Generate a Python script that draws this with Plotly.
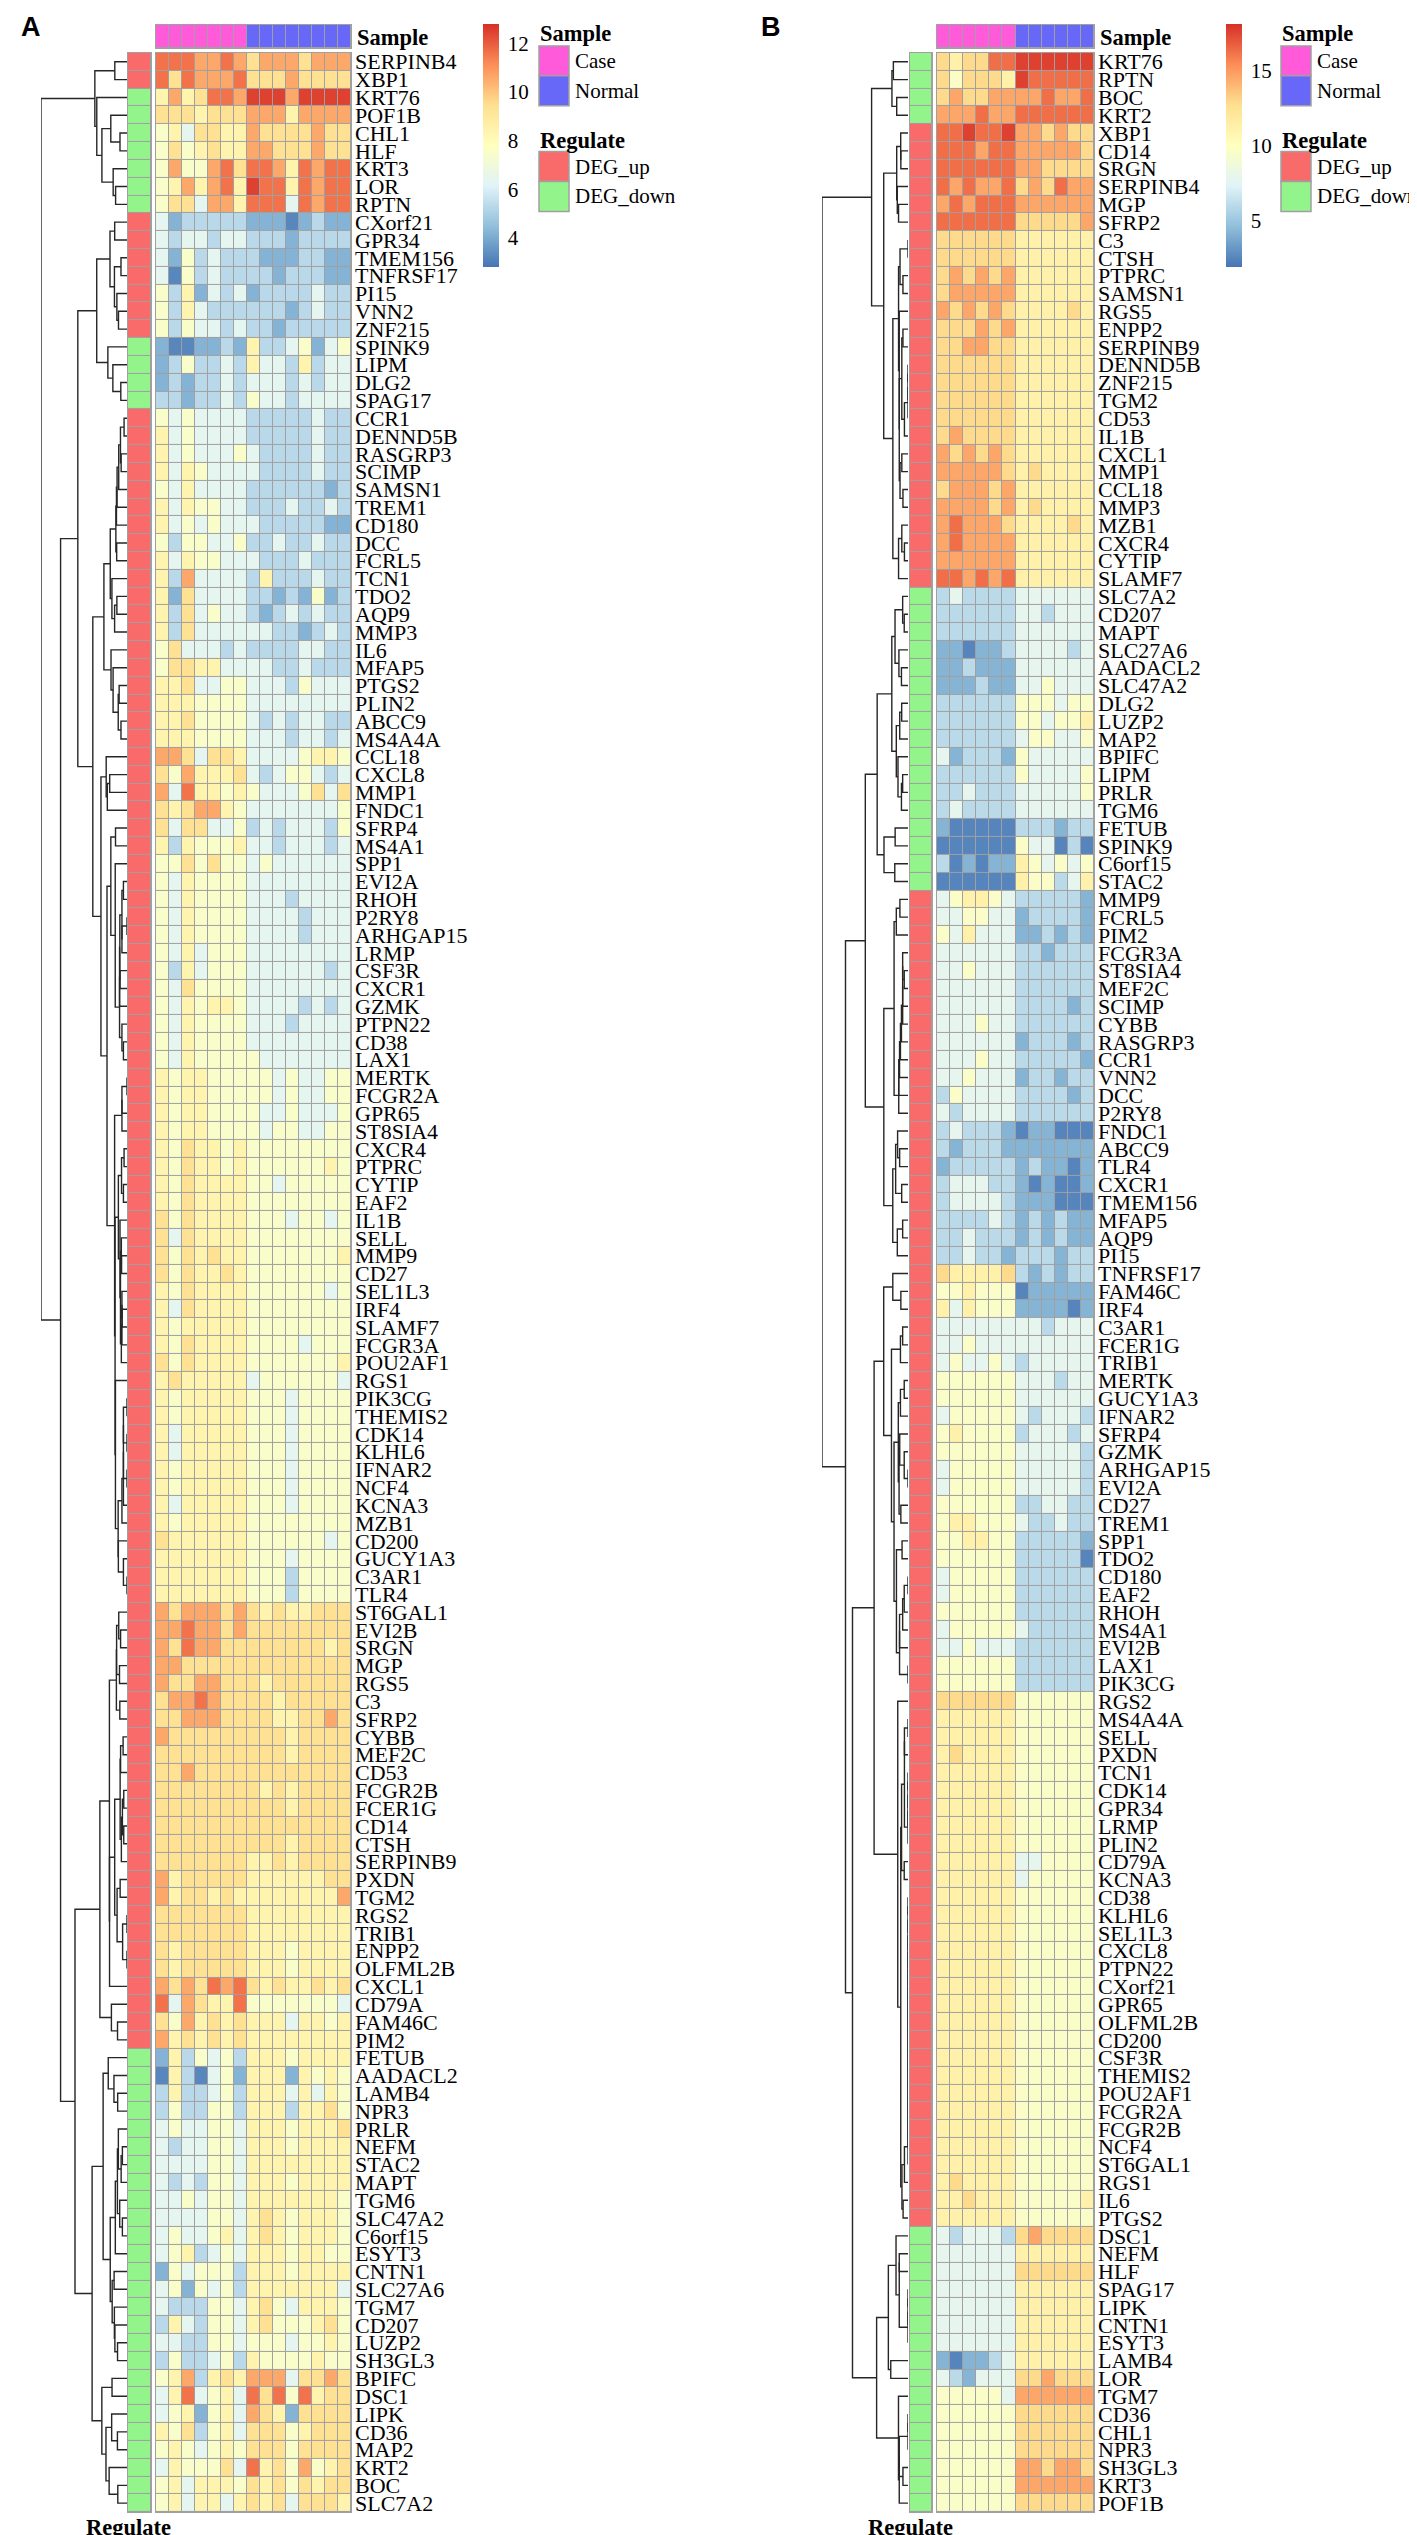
import numpy as np
import plotly.graph_objects as go

W, H = 1417, 2535
SERIF = "Liberation Serif"
SANS = "Liberation Sans"

# ---------------- panel A ----------------
genes_a = ["SERPINB4", "XBP1", "KRT76", "POF1B", "CHL1", "HLF", "KRT3", "LOR", "RPTN", "CXorf21",
           "GPR34", "TMEM156", "TNFRSF17", "PI15", "VNN2", "ZNF215", "SPINK9", "LIPM", "DLG2", "SPAG17",
           "CCR1", "DENND5B", "RASGRP3", "SCIMP", "SAMSN1", "TREM1", "CD180", "DCC", "FCRL5", "TCN1",
           "TDO2", "AQP9", "MMP3", "IL6", "MFAP5", "PTGS2", "PLIN2", "ABCC9", "MS4A4A", "CCL18",
           "CXCL8", "MMP1", "FNDC1", "SFRP4", "MS4A1", "SPP1", "EVI2A", "RHOH", "P2RY8", "ARHGAP15",
           "LRMP", "CSF3R", "CXCR1", "GZMK", "PTPN22", "CD38", "LAX1", "MERTK", "FCGR2A", "GPR65",
           "ST8SIA4", "CXCR4", "PTPRC", "CYTIP", "EAF2", "IL1B", "SELL", "MMP9", "CD27", "SEL1L3",
           "IRF4", "SLAMF7", "FCGR3A", "POU2AF1", "RGS1", "PIK3CG", "THEMIS2", "CDK14", "KLHL6", "IFNAR2",
           "NCF4", "KCNA3", "MZB1", "CD200", "GUCY1A3", "C3AR1", "TLR4", "ST6GAL1", "EVI2B", "SRGN",
           "MGP", "RGS5", "C3", "SFRP2", "CYBB", "MEF2C", "CD53", "FCGR2B", "FCER1G", "CD14",
           "CTSH", "SERPINB9", "PXDN", "TGM2", "RGS2", "TRIB1", "ENPP2", "OLFML2B", "CXCL1", "CD79A",
           "FAM46C", "PIM2", "FETUB", "AADACL2", "LAMB4", "NPR3", "PRLR", "NEFM", "STAC2", "MAPT",
           "TGM6", "SLC47A2", "C6orf15", "ESYT3", "CNTN1", "SLC27A6", "TGM7", "CD207", "LUZP2", "SH3GL3",
           "BPIFC", "DSC1", "LIPK", "CD36", "MAP2", "KRT2", "BOC", "SLC7A2"]

# U = DEG_up, D = DEG_down (row order as drawn)
reg_a = ("UU" "DDDDDDD" "UUUUUUU" "DDDD"
         "UUUUUUUUUU" "UUUUUUUUUU" "UUUUUUUUUU" "UUUUUUUUUU" "UUUUUUUUUU"
         "UUUUUUUUUU" "UUUUUUUUUU" "UUUUUUUUUU" "UUUUUUUUUU" "UU"
         "DDDDDDDDDD" "DDDDDDDDDD" "DDDDDD")

# colour level per cell (0 = darkest blue ... 9 = darkest red); 7 Case | 8 Normal
expr_a = ["8887787 67776777", "8687778 66676666", "5756887 99979999", "6665666 77757777",
          "4536655 76666766", "4645655 77666766", "4744786 88758788", "4575785 98858788",
          "4663775 88838788", "3122222 11101211", "3233233 22212222", "3142322 21112211",
          "3042322 22122211", "4251323 12222322", "4253222 22212322", "4243323 22122222",
          "1001121 52234134", "1242232 53325233", "1212232 33323233", "2212232 43323333",
          "4343333 22222322", "5343333 22222322", "5343334 32222322", "5354333 32222322",
          "4353333 22222212", "5354433 22232232", "5343433 32222211", "4244334 22322322",
          "5354433 32223222", "5273333 25222322", "5163333 22121412", "5263433 21232322",
          "5263333 33221232", "4633323 22223322", "4665533 33223222", "5563344 33324333",
          "5554444 33333333", "5564444 32323322", "5554444 33323323", "7763665 33334554",
          "6475556 32344323", "7385545 43334636", "6567754 33333334", "6366334 23233324",
          "5254445 33233323", "4464644 34333333", "4354444 33333333", "4354444 33323333",
          "4354444 33332333", "4354444 33332333", "4353444 33333333", "4253444 33333323",
          "4364444 33333333", "4354554 33332323", "4354444 33323333", "4354444 33333333",
          "4354444 43333333", "5455444 44343344", "5455444 44343344", "5455444 43343334",
          "5455444 43443344", "5465545 44444444", "5465545 44444454", "5465555 44344444",
          "5465555 44444444", "6465555 44434434", "6365555 44444444", "6465655 44444445",
          "6465565 44444444", "5465555 44444434", "5365555 44444444", "5455555 44444444",
          "5465555 44443444", "6465555 44444445", "5655555 34444443", "5455555 44434444",
          "5455555 44434444", "5355555 44434444", "5355555 44434444", "5455555 44434444",
          "5455555 44434444", "5355555 44434444", "5455555 44444444", "6555555 44444434",
          "5555555 44434444", "5555555 44424444", "5555555 44424444", "7677767 65655666",
          "7787767 66666666", "7687766 66666656", "7766666 66666666", "7667766 65666666",
          "6778766 66566666", "6677766 66556676", "7666666 66656666", "6666666 66656666",
          "6676666 66666666", "6666666 65656666", "6666666 66656666", "6666666 66666666",
          "6666666 66656666", "6666666 55656666", "7566666 55555566", "7566565 55555557",
          "6666666 55555555", "6666666 55555555", "6566666 55545555", "6566666 55545555",
          "7676878 65655656", "8376558 44444443", "6475656 55535545", "7565656 55555555",
          "1524342 55545555", "0520341 55515454", "2522342 55535354", "2422442 55525564",
          "3433443 55545556", "3233443 55545555", "3333443 55555555", "3232443 55545555",
          "3343443 55555554", "3333443 56545554", "3433453 56545554", "3452343 55545544",
          "1434442 55545555", "3414342 55555553", "3222443 56435554", "2532443 56444564",
          "3322443 44434454", "2422342 54444544", "4572565 77736676", "3583453 86848566",
          "3451453 76516666", "5462453 66645666", "4543454 66646666", "3544463 85647456",
          "4535554 65646566", "4535535 65636665"]

levels_a = [3.2, 4.2, 5.3, 6.4, 7.5, 8.4, 9.4, 10.6, 11.6, 12.5]   # value behind each level
zlim_a = (2.8, 12.8)
ticks_a = [4, 6, 8, 10, 12]
n_case_a = 7

# ---------------- panel B ----------------
genes_b = ["KRT76", "RPTN", "BOC", "KRT2", "XBP1", "CD14", "SRGN", "SERPINB4", "MGP", "SFRP2",
           "C3", "CTSH", "PTPRC", "SAMSN1", "RGS5", "ENPP2", "SERPINB9", "DENND5B", "ZNF215", "TGM2",
           "CD53", "IL1B", "CXCL1", "MMP1", "CCL18", "MMP3", "MZB1", "CXCR4", "CYTIP", "SLAMF7",
           "SLC7A2", "CD207", "MAPT", "SLC27A6", "AADACL2", "SLC47A2", "DLG2", "LUZP2", "MAP2", "BPIFC",
           "LIPM", "PRLR", "TGM6", "FETUB", "SPINK9", "C6orf15", "STAC2", "MMP9", "FCRL5", "PIM2",
           "FCGR3A", "ST8SIA4", "MEF2C", "SCIMP", "CYBB", "RASGRP3", "CCR1", "VNN2", "DCC", "P2RY8",
           "FNDC1", "ABCC9", "TLR4", "CXCR1", "TMEM156", "MFAP5", "AQP9", "PI15", "TNFRSF17", "FAM46C",
           "IRF4", "C3AR1", "FCER1G", "TRIB1", "MERTK", "GUCY1A3", "IFNAR2", "SFRP4", "GZMK", "ARHGAP15",
           "EVI2A", "CD27", "TREM1", "SPP1", "TDO2", "CD180", "EAF2", "RHOH", "MS4A1", "EVI2B",
           "LAX1", "PIK3CG", "RGS2", "MS4A4A", "SELL", "PXDN", "TCN1", "CDK14", "GPR34", "LRMP",
           "PLIN2", "CD79A", "KCNA3", "CD38", "KLHL6", "SEL1L3", "CXCL8", "PTPN22", "CXorf21", "GPR65",
           "OLFML2B", "CD200", "CSF3R", "THEMIS2", "POU2AF1", "FCGR2A", "FCGR2B", "NCF4", "ST6GAL1", "RGS1",
           "IL6", "PTGS2", "DSC1", "NEFM", "HLF", "SPAG17", "LIPK", "CNTN1", "ESYT3", "LAMB4",
           "LOR", "TGM7", "CD36", "CHL1", "NPR3", "SH3GL3", "KRT3", "POF1B"]

reg_b = ("DDDD"
         "UUUUUUUUUU" "UUUUUUUUUU" "UUUUUU"
         "DDDDDDDDDD" "DDDDDDD"
         "UUUUUUUUUU" "UUUUUUUUUU" "UUUUUUUUUU" "UUUUUUUUUU" "UUUUUUUUUU"
         "UUUUUUUUUU" "UUUUUUUUUU" "UUUUU"
         "DDDDDDDDDD" "DDDDDD")

# 6 Case | 6 Normal
expr_b = ["656688 999999", "646665 988888", "676677 778778", "777877 888888", "889889 776766",
          "888788 777776", "888888 776666", "878778 676877", "787888 777777", "888888 666667",
          "666666 555555", "666666 555555", "676767 555555", "677777 555555", "767676 555565",
          "666767 555555", "667766 555555", "666666 555555", "666666 555555", "666666 555555",
          "666666 555555", "676666 555555", "767676 555555", "777776 565555", "677767 555555",
          "777767 565555", "787776 555565", "787777 555555", "777777 555555", "887878 555555",
          "232222 333333", "222222 332333", "222222 333333", "110112 333323", "112111 333333",
          "111211 334333", "222222 444344", "222222 443445", "222222 344334", "312221 433333",
          "222222 433334", "223222 333334", "232222 333333", "100000 222122", "000000 433020",
          "201011 543434", "000000 544235", "345543 222221", "334433 122221", "435333 112121",
          "333333 221222", "334333 222222", "333333 222222", "333333 222212", "333433 222222",
          "333333 122212", "333433 222221", "334333 122122", "243333 222212", "323333 222222",
          "232221 011000", "212221 111111", "122222 121101", "233322 101001", "233332 111000",
          "222232 121211", "223222 121211", "223221 222122", "655556 212122", "445444 011111",
          "535444 111101", "333333 332333", "334333 333333", "343343 233333", "444444 333233",
          "444444 333333", "344444 323332", "454444 233323", "444444 333332", "344444 333332",
          "344444 333332", "444444 223322", "455444 322322", "445544 222221", "444444 222220",
          "344444 222222", "344444 222222", "444444 222222", "344444 322222", "334333 222222",
          "444444 222222", "444444 222222", "666666 444444", "555555 444444", "555555 444444",
          "565555 444444", "555555 444444", "555555 444444", "555555 444444", "555555 444444",
          "555555 444444", "555555 334444", "555555 344444", "555555 444444", "555555 444444",
          "555555 444444", "555555 444444", "555555 444444", "555555 444444", "555555 444444",
          "555555 444444", "555555 444444", "555555 444444", "555555 444444", "555555 444444",
          "555555 444444", "555555 444444", "555555 444444", "555555 444444", "565555 444444",
          "556555 444445", "555555 444444", "323332 676666", "333333 555555", "333333 666666",
          "333333 555555", "333333 555555", "333333 555555", "333333 555555", "101123 555555",
          "321333 667666", "444443 777777", "444444 666666", "444444 666666", "444444 666666",
          "444444 776776", "444444 777777", "444444 666666"]

levels_b = [2.5, 4.2, 6.0, 7.8, 9.6, 11.2, 12.9, 14.6, 16.3, 17.6]
zlim_b = (1.9, 18.1)
ticks_b = [5, 10, 15]
n_case_b = 6

# ---------------- styling ----------------
RDYLBU = [[0, "#4575B4"], [1 / 6, "#91BFDB"], [2 / 6, "#E0F3F8"], [3 / 6, "#FFFFBF"],
          [4 / 6, "#FEE090"], [5 / 6, "#FC8D59"], [1, "#D73027"]]
CASE_COL, NORMAL_COL = "#FF5AD9", "#6767F8"
UP_COL, DOWN_COL = "#F96B6B", "#94F48C"
GRID = "#A0A0A0"
SAMPLE_Y = (14, 37)
HEAT_Y = (42, 2508)

geo_a = dict(dendro=(33, 119), reg=(120, 143), heat=(148, 343), cbar=475, legend=531, letter=23)
geo_b = dict(dendro=(814, 900), reg=(902, 924), heat=(929, 1086), cbar=1218, legend=1273, letter=763)


def fx(px):
    return px / W


def fy(px):
    return 1 - px / H


def ordered_tree(mat):
    # complete-linkage clustering restricted to neighbouring groups, so the
    # tree keeps the row order of the heatmap
    dist = np.sqrt(((mat[:, None, :] - mat[None, :, :]) ** 2).sum(axis=2))
    groups = [[i] for i in range(len(mat))]
    ys = [float(i) for i in range(len(mat))]
    hs = [0.0] * len(mat)
    lx, ly = [], []
    while len(groups) > 1:
        cand = [dist[np.ix_(groups[k], groups[k + 1])].max() for k in range(len(groups) - 1)]
        k = int(np.argmin(cand))
        h = float(cand[k])
        y1, y2 = ys[k], ys[k + 1]
        lx += [hs[k], h, h, hs[k + 1], None]
        ly += [y1, y1, y2, y2, None]
        groups[k:k + 2] = [groups[k] + groups[k + 1]]
        ys[k:k + 2] = [(y1 + y2) / 2]
        hs[k:k + 2] = [h]
    return lx, ly, hs[0]


fig = go.Figure()
layout = {}
shapes = []
annotations = []


def ax_names(n):
    return ("x" if n == 1 else f"x{n}", "y" if n == 1 else f"y{n}",
            "xaxis" if n == 1 else f"xaxis{n}", "yaxis" if n == 1 else f"yaxis{n}")


def hidden(domain, rng, anchor):
    return dict(domain=domain, range=rng, anchor=anchor, visible=False, fixedrange=True)


def grey_box(xr, yr):
    shapes.append(dict(type="rect", xref=f"{xr} domain", yref=f"{yr} domain", x0=0, x1=1, y0=0, y1=1,
                       fillcolor=GRID, line=dict(color=GRID, width=2), layer="below"))


def text(x, y, s, size=22.5, family=SERIF, anchor="left"):
    annotations.append(dict(x=fx(x), y=fy(y), xref="paper", yref="paper", text=s, showarrow=False,
                            xanchor=anchor, yanchor="middle", borderpad=0,
                            font=dict(family=family, size=size, color="black")))


def add_panel(first, letter, genes, reg, expr, levels, n_case, zlim, cticks, geo):
    z = np.array([[levels[int(c)] for c in row.replace(" ", "")] for row in expr])
    n, ncol = z.shape
    rows = list(range(n))
    cols = list(range(ncol))
    ydom = [fy(HEAT_Y[1]), fy(HEAT_Y[0])]
    yrng = [n - 0.5, -0.5]
    xdom = [fx(geo["heat"][0]), fx(geo["heat"][1])]
    xrng = [-0.5, ncol - 0.5]

    # main heatmap
    xa, ya, xk, yk = ax_names(first)
    fig.add_trace(go.Heatmap(
        z=z, x=cols, y=rows, xaxis=xa, yaxis=ya, colorscale=RDYLBU, zmin=zlim[0], zmax=zlim[1],
        xgap=1, ygap=1, hoverinfo="skip",
        colorbar=dict(x=fx(geo["cbar"]), xanchor="left", y=fy(13), yanchor="top",
                      len=243, lenmode="pixels", thickness=16, thicknessmode="pixels",
                      outlinewidth=0, xpad=0, ypad=0, ticks="outside", ticklen=5,
                      tickcolor="rgba(0,0,0,0)", tickvals=cticks,
                      tickfont=dict(family=SERIF, size=21, color="black"))))
    layout[xk] = hidden(xdom, xrng, ya)
    layout[yk] = dict(domain=ydom, range=yrng, anchor=xa, side="right", tickmode="array",
                      tickvals=rows, ticktext=genes, ticks="", showgrid=False, zeroline=False,
                      showline=False, ticklabelstandoff=3, fixedrange=True,
                      tickfont=dict(family=SERIF, size=22, color="black"))
    grey_box(xa, ya)

    # sample annotation bar
    xa2, ya2, xk2, yk2 = ax_names(first + 1)
    fig.add_trace(go.Heatmap(
        z=[[0] * n_case + [1] * (ncol - n_case)], x=cols, y=[0], xaxis=xa2, yaxis=ya2,
        colorscale=[[0, CASE_COL], [0.5, CASE_COL], [0.5, NORMAL_COL], [1, NORMAL_COL]],
        zmin=0, zmax=1, showscale=False, xgap=1, ygap=1, hoverinfo="skip"))
    layout[xk2] = hidden(xdom, xrng, ya2)
    layout[yk2] = hidden([fy(SAMPLE_Y[1]), fy(SAMPLE_Y[0])], [-0.5, 0.5], xa2)
    grey_box(xa2, ya2)

    # regulate annotation bar
    xa3, ya3, xk3, yk3 = ax_names(first + 2)
    fig.add_trace(go.Heatmap(
        z=[[1 if r == "U" else 0] for r in reg], x=[0], y=rows, xaxis=xa3, yaxis=ya3,
        colorscale=[[0, DOWN_COL], [0.5, DOWN_COL], [0.5, UP_COL], [1, UP_COL]],
        zmin=0, zmax=1, showscale=False, xgap=1, ygap=1, hoverinfo="skip"))
    layout[xk3] = hidden([fx(geo["reg"][0]), fx(geo["reg"][1])], [-0.5, 0.5], ya3)
    layout[yk3] = hidden(ydom, yrng, xa3)
    grey_box(xa3, ya3)

    # row dendrogram
    xa4, ya4, xk4, yk4 = ax_names(first + 3)
    lx, ly, top = ordered_tree(z)
    fig.add_trace(go.Scatter(x=lx, y=ly, xaxis=xa4, yaxis=ya4, mode="lines",
                             line=dict(color="#262626", width=1.4), hoverinfo="skip"))
    layout[xk4] = hidden([fx(geo["dendro"][0]), fx(geo["dendro"][1])], [top, 0], ya4)
    layout[yk4] = hidden(ydom, yrng, xa4)

    # texts
    text(geo["letter"], 16, "<b>" + letter + "</b>", size=27, family=SANS, anchor="center")
    text(geo["heat"][1] + 5, 27, "<b>Sample</b>")
    text(geo["reg"][0], 2523, "<b>Regulate</b>", anchor="center")

    # legends
    lx0 = geo["legend"]
    text(lx0, 23, "<b>Sample</b>")
    text(lx0, 130, "<b>Regulate</b>")
    for top_px, label, col in [(35, "Case", CASE_COL), (65, "Normal", NORMAL_COL),
                               (141, "DEG_up", UP_COL), (171, "DEG_down", DOWN_COL)]:
        shapes.append(dict(type="rect", xref="paper", yref="paper", x0=fx(lx0), x1=fx(lx0 + 30),
                           y0=fy(top_px + 30), y1=fy(top_px), fillcolor=col,
                           line=dict(color=GRID, width=1.5)))
        text(lx0 + 35, top_px + 15, label, size=21)


add_panel(1, "A", genes_a, reg_a, expr_a, levels_a, n_case_a, zlim_a, ticks_a, geo_a)
add_panel(5, "B", genes_b, reg_b, expr_b, levels_b, n_case_b, zlim_b, ticks_b, geo_b)

fig.update_layout(width=W, height=H, margin=dict(l=0, r=0, t=0, b=0), showlegend=False,
                  paper_bgcolor="white", plot_bgcolor="white",
                  shapes=shapes, annotations=annotations, **layout)
fig.write_html("out.html")
